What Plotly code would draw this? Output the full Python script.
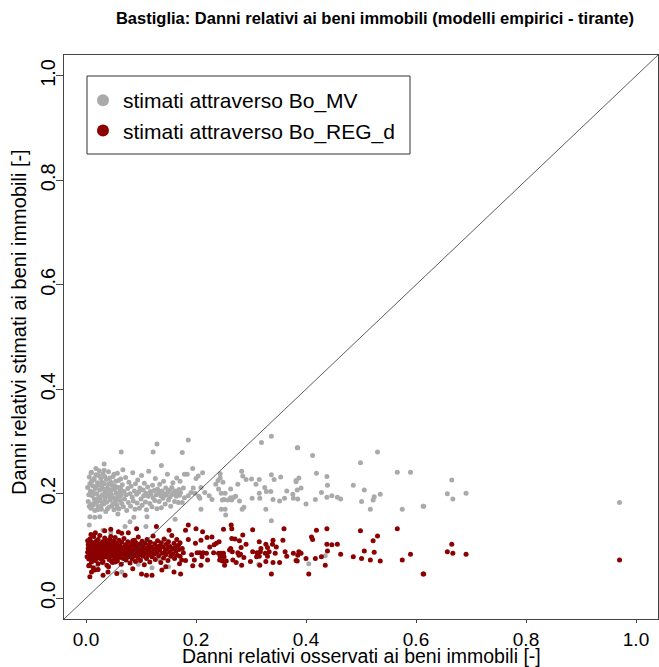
import plotly.graph_objects as go

# ---------------- data ----------------
TITLE = "Bastiglia: Danni relativi ai beni immobili (modelli empirici - tirante)"
X_LABEL = "Danni relativi osservati ai beni immobili [-]"
Y_LABEL = "Danni relativi stimati ai beni immobili [-]"
NAME_MV = "stimati attraverso Bo_MV"
NAME_REG = "stimati attraverso Bo_REG_d"
TICK_VALS = [0.0, 0.2, 0.4, 0.6, 0.8, 1.0]
TICK_TEXT = ["0.0", "0.2", "0.4", "0.6", "0.8", "1.0"]
AXIS_RANGE = [-0.04, 1.04]
DIAG = [-0.04, 1.04]

# Bo_MV estimates (grey)
mv_x = [
    0.004, 0.006, 0.008, 0.009, 0.010, 0.011, 0.012, 0.013, 0.014, 0.015,
    0.016, 0.017, 0.018, 0.019, 0.020, 0.021, 0.022, 0.023, 0.024, 0.025,
    0.026, 0.027, 0.028, 0.029, 0.030, 0.031, 0.032, 0.033, 0.034, 0.035,
    0.036, 0.037, 0.038, 0.039, 0.040, 0.041, 0.042, 0.043, 0.044, 0.045,
    0.046, 0.047, 0.048, 0.049, 0.050, 0.051, 0.052, 0.053, 0.054, 0.055,
    0.056, 0.057, 0.058, 0.059, 0.060, 0.061, 0.062, 0.063, 0.064, 0.065,
    0.066, 0.067, 0.068, 0.069, 0.070, 0.072, 0.073, 0.074, 0.076, 0.077,
    0.078, 0.080, 0.081, 0.082, 0.084, 0.085, 0.086, 0.088, 0.089, 0.090,
    0.092, 0.093, 0.094, 0.096, 0.097, 0.098, 0.100, 0.101, 0.102, 0.104,
    0.105, 0.106, 0.108, 0.109, 0.110, 0.112, 0.113, 0.114, 0.116, 0.117,
    0.118, 0.120, 0.121, 0.122, 0.124, 0.125, 0.126, 0.128, 0.129, 0.130,
    0.132, 0.133, 0.134, 0.136, 0.137, 0.138, 0.140, 0.141, 0.142, 0.144,
    0.145, 0.146, 0.148, 0.149, 0.150, 0.152, 0.153, 0.154, 0.156, 0.157,
    0.158, 0.160, 0.161, 0.162, 0.164, 0.165, 0.166, 0.168, 0.169, 0.170,
    0.005, 0.007, 0.009, 0.011, 0.013, 0.015, 0.017, 0.019, 0.021, 0.023,
    0.025, 0.027, 0.029, 0.031, 0.033, 0.035, 0.037, 0.039, 0.041, 0.043,
    0.045, 0.047, 0.049, 0.051, 0.053, 0.055, 0.057, 0.059, 0.061, 0.063,
    0.003, 0.006, 0.010, 0.014, 0.018, 0.022, 0.026, 0.030, 0.034, 0.038,
    0.064, 0.122, 0.129, 0.033, 0.137, 0.006, 0.016, 0.025, 0.007, 0.058,
    0.080, 0.087, 0.109, 0.111, 0.071, 0.031, 0.162, 0.065, 0.134, 0.146,
    0.045, 0.095, 0.020, 0.150, 0.105, 0.055, 0.120, 0.160,
    0.186, 0.337, 0.319, 0.175, 0.385, 0.194, 0.179, 0.184, 0.204, 0.212,
    0.200, 0.244, 0.244, 0.283, 0.285, 0.291, 0.301, 0.315, 0.337, 0.342,
    0.354, 0.382, 0.171, 0.240, 0.249, 0.236, 0.276, 0.309, 0.177, 0.195,
    0.209, 0.241, 0.263, 0.325, 0.336, 0.365, 0.172, 0.191, 0.198, 0.216,
    0.246, 0.253, 0.315, 0.328, 0.376, 0.384, 0.179, 0.186, 0.205, 0.207,
    0.224, 0.229, 0.251, 0.263, 0.265, 0.269, 0.272, 0.279, 0.302, 0.316,
    0.340, 0.352, 0.361, 0.377, 0.175, 0.248, 0.258, 0.209, 0.246, 0.253,
    0.284, 0.287, 0.327, 0.254, 0.337, 0.314,
    0.384, 0.412, 0.530, 0.499, 0.566, 0.590, 0.419, 0.438, 0.387, 0.382,
    0.439, 0.486, 0.391, 0.506, 0.428, 0.447, 0.438, 0.457, 0.463, 0.524,
    0.535, 0.522, 0.385, 0.417, 0.501, 0.400, 0.517, 0.575, 0.613, 0.435,
    0.405,
    0.665, 0.657, 0.691, 0.667, 0.614, 0.970,
]
mv_y = [
    0.185, 0.232, 0.205, 0.172, 0.241, 0.196, 0.215, 0.178, 0.226, 0.190,
    0.168, 0.210, 0.236, 0.182, 0.200, 0.221, 0.175, 0.193, 0.244, 0.207,
    0.186, 0.229, 0.170, 0.213, 0.198, 0.238, 0.180, 0.219, 0.191, 0.203,
    0.166, 0.227, 0.184, 0.211, 0.195, 0.242, 0.174, 0.206, 0.188, 0.222,
    0.199, 0.177, 0.216, 0.233, 0.192, 0.169, 0.208, 0.185, 0.224, 0.201,
    0.179, 0.239, 0.194, 0.212, 0.171, 0.203, 0.187, 0.228, 0.197, 0.181,
    0.217, 0.246, 0.175, 0.204, 0.190, 0.231, 0.198, 0.168, 0.210, 0.183,
    0.222, 0.200, 0.176, 0.214, 0.193, 0.240, 0.186, 0.205, 0.170, 0.219,
    0.199, 0.182, 0.226, 0.203, 0.172, 0.211, 0.190, 0.235, 0.178, 0.207,
    0.196, 0.220, 0.184, 0.201, 0.169, 0.213, 0.195, 0.243, 0.181, 0.204,
    0.199, 0.175, 0.216, 0.192, 0.206, 0.187, 0.229, 0.198, 0.171, 0.209,
    0.202, 0.185, 0.218, 0.196, 0.173, 0.205, 0.191, 0.224, 0.200, 0.180,
    0.211, 0.197, 0.237, 0.203, 0.188, 0.207, 0.194, 0.176, 0.212, 0.199,
    0.221, 0.202, 0.185, 0.205, 0.195, 0.230, 0.200, 0.183, 0.208, 0.197,
    0.198, 0.219, 0.240, 0.180, 0.203, 0.229, 0.187, 0.214, 0.169, 0.235,
    0.193, 0.176, 0.222, 0.209, 0.245, 0.183, 0.201, 0.171, 0.218, 0.230,
    0.196, 0.208, 0.180, 0.237, 0.214, 0.189, 0.173, 0.225, 0.194, 0.210,
    0.212, 0.176, 0.224, 0.200, 0.248, 0.188, 0.217, 0.183, 0.233, 0.199,
    0.280, 0.280, 0.295, 0.257, 0.254, 0.140, 0.155, 0.156, 0.156, 0.161,
    0.146, 0.155, 0.137, 0.156, 0.137, 0.130, 0.151, 0.050, 0.074, 0.110,
    0.125, 0.065, 0.060, 0.060, 0.090, 0.100, 0.058, 0.082,
    0.303, 0.310, 0.298, 0.279, 0.288, 0.248, 0.237, 0.237, 0.234, 0.240,
    0.229, 0.238, 0.230, 0.243, 0.234, 0.227, 0.228, 0.227, 0.236, 0.227,
    0.232, 0.225, 0.224, 0.225, 0.222, 0.218, 0.218, 0.218, 0.211, 0.211,
    0.212, 0.209, 0.209, 0.212, 0.204, 0.205, 0.202, 0.202, 0.201, 0.202,
    0.201, 0.201, 0.201, 0.204, 0.199, 0.207, 0.192, 0.196, 0.195, 0.191,
    0.196, 0.189, 0.189, 0.192, 0.188, 0.193, 0.195, 0.186, 0.191, 0.191,
    0.189, 0.186, 0.191, 0.191, 0.183, 0.188, 0.188, 0.170, 0.170, 0.170,
    0.170, 0.174, 0.170, 0.159, 0.148, 0.065,
    0.288, 0.273, 0.280, 0.259, 0.241, 0.241, 0.239, 0.233, 0.230, 0.223,
    0.216, 0.216, 0.211, 0.207, 0.202, 0.196, 0.193, 0.193, 0.190, 0.194,
    0.199, 0.188, 0.190, 0.189, 0.185, 0.180, 0.170, 0.170, 0.176, 0.081,
    0.066,
    0.226, 0.200, 0.201, 0.190, 0.176, 0.183,
]

# Bo_REG_d estimates (dark red)
reg_x = [
    0.003, 0.004, 0.005, 0.006, 0.007, 0.008, 0.009, 0.010, 0.011, 0.012,
    0.013, 0.014, 0.015, 0.016, 0.017, 0.018, 0.019, 0.020, 0.021, 0.022,
    0.023, 0.024, 0.025, 0.026, 0.027, 0.028, 0.029, 0.030, 0.031, 0.032,
    0.033, 0.034, 0.035, 0.036, 0.037, 0.038, 0.039, 0.040, 0.041, 0.042,
    0.043, 0.044, 0.045, 0.046, 0.047, 0.048, 0.049, 0.050, 0.051, 0.052,
    0.053, 0.054, 0.055, 0.056, 0.057, 0.058, 0.059, 0.060, 0.061, 0.062,
    0.063, 0.064, 0.065, 0.066, 0.067, 0.068, 0.069, 0.070, 0.071, 0.072,
    0.073, 0.074, 0.075, 0.076, 0.077, 0.078, 0.079, 0.080, 0.081, 0.082,
    0.083, 0.084, 0.085, 0.086, 0.087, 0.088, 0.089, 0.090, 0.091, 0.092,
    0.093, 0.094, 0.095, 0.096, 0.097, 0.098, 0.099, 0.100, 0.101, 0.102,
    0.103, 0.104, 0.105, 0.106, 0.107, 0.108, 0.109, 0.110, 0.111, 0.112,
    0.113, 0.114, 0.115, 0.116, 0.117, 0.118, 0.119, 0.120, 0.122, 0.123,
    0.124, 0.125, 0.126, 0.128, 0.129, 0.130, 0.132, 0.133, 0.134, 0.136,
    0.137, 0.138, 0.140, 0.141, 0.142, 0.144, 0.145, 0.146, 0.148, 0.149,
    0.150, 0.152, 0.153, 0.154, 0.156, 0.157, 0.158, 0.160, 0.161, 0.162,
    0.164, 0.165, 0.166, 0.168, 0.169, 0.170,
    0.004, 0.006, 0.008, 0.010, 0.012, 0.014, 0.016, 0.018, 0.020, 0.022,
    0.024, 0.026, 0.028, 0.030, 0.032, 0.034, 0.036, 0.038, 0.040, 0.042,
    0.044, 0.046, 0.048, 0.050, 0.052, 0.054, 0.056, 0.058, 0.060, 0.062,
    0.005, 0.009, 0.013, 0.017, 0.021, 0.025, 0.029, 0.033, 0.037, 0.041,
    0.045, 0.049, 0.053, 0.057, 0.061, 0.065, 0.002, 0.003, 0.007, 0.011,
    0.034, 0.059, 0.077, 0.088, 0.128, 0.151, 0.007, 0.016, 0.006, 0.031,
    0.040, 0.056, 0.071, 0.101, 0.110, 0.120, 0.138, 0.010, 0.022, 0.085,
    0.145, 0.160, 0.092, 0.045,
    0.186, 0.264, 0.181, 0.200, 0.212, 0.250, 0.265, 0.303, 0.360, 0.220,
    0.229, 0.186, 0.209, 0.265, 0.271, 0.285, 0.279, 0.315, 0.340, 0.358,
    0.242, 0.171, 0.199, 0.237, 0.291, 0.327, 0.339, 0.175, 0.225, 0.233,
    0.263, 0.282, 0.318, 0.330, 0.346, 0.177, 0.202, 0.207, 0.213, 0.219,
    0.232, 0.241, 0.245, 0.250, 0.261, 0.266, 0.276, 0.281, 0.303, 0.311,
    0.317, 0.326, 0.333, 0.344, 0.362, 0.377, 0.171, 0.192, 0.211, 0.244,
    0.251, 0.278, 0.287, 0.310, 0.315, 0.330, 0.365, 0.385, 0.174, 0.181,
    0.197, 0.221, 0.243, 0.248, 0.255, 0.267, 0.273, 0.299, 0.327, 0.340,
    0.352, 0.194, 0.209, 0.252, 0.283, 0.316, 0.172, 0.337,
    0.419, 0.438, 0.499, 0.566, 0.410, 0.412, 0.530, 0.522, 0.438, 0.447,
    0.457, 0.387, 0.391, 0.439, 0.506, 0.524, 0.463, 0.590, 0.382, 0.384,
    0.400, 0.417, 0.428, 0.486, 0.501, 0.517, 0.535, 0.575, 0.435, 0.405,
    0.613,
    0.665, 0.657, 0.667, 0.691, 0.614, 0.970,
]
reg_y = [
    0.088, 0.102, 0.075, 0.094, 0.113, 0.082, 0.098, 0.069, 0.107, 0.090,
    0.078, 0.118, 0.085, 0.100, 0.072, 0.093, 0.110, 0.081, 0.096, 0.066,
    0.104, 0.087, 0.120, 0.076, 0.099, 0.091, 0.083, 0.108, 0.070, 0.095,
    0.086, 0.115, 0.079, 0.101, 0.092, 0.063, 0.106, 0.084, 0.097, 0.074,
    0.112, 0.089, 0.080, 0.103, 0.094, 0.068, 0.109, 0.086, 0.099, 0.077,
    0.116, 0.091, 0.083, 0.105, 0.071, 0.096, 0.088, 0.111, 0.080, 0.100,
    0.093, 0.065, 0.107, 0.085, 0.097, 0.076, 0.114, 0.090, 0.082, 0.102,
    0.073, 0.095, 0.087, 0.108, 0.079, 0.098, 0.091, 0.067, 0.104, 0.084,
    0.096, 0.075, 0.110, 0.089, 0.081, 0.101, 0.093, 0.070, 0.106, 0.086,
    0.097, 0.078, 0.117, 0.092, 0.083, 0.103, 0.072, 0.095, 0.088, 0.109,
    0.080, 0.099, 0.090, 0.064, 0.105, 0.085, 0.096, 0.076, 0.112, 0.091,
    0.082, 0.102, 0.094, 0.069, 0.107, 0.087, 0.098, 0.079, 0.119, 0.093,
    0.084, 0.104, 0.074, 0.097, 0.089, 0.110, 0.081, 0.100, 0.092, 0.068,
    0.106, 0.086, 0.098, 0.077, 0.113, 0.090, 0.083, 0.103, 0.095, 0.072,
    0.108, 0.088, 0.099, 0.080, 0.120, 0.094, 0.085, 0.105, 0.076, 0.097,
    0.090, 0.112, 0.082, 0.101, 0.093, 0.066,
    0.095, 0.080, 0.108, 0.091, 0.073, 0.099, 0.086, 0.104, 0.077, 0.112,
    0.094, 0.083, 0.101, 0.068, 0.089, 0.097, 0.079, 0.110, 0.092, 0.085,
    0.103, 0.071, 0.096, 0.081, 0.107, 0.088, 0.074, 0.100, 0.093, 0.078,
    0.062, 0.122, 0.058, 0.125, 0.087, 0.097, 0.075, 0.105, 0.088, 0.060,
    0.118, 0.091, 0.069, 0.102, 0.087, 0.124, 0.079, 0.110, 0.090, 0.100,
    0.129, 0.127, 0.125, 0.111, 0.137, 0.130, 0.041, 0.054, 0.063, 0.044,
    0.050, 0.047, 0.044, 0.046, 0.044, 0.044, 0.054, 0.050, 0.055, 0.056,
    0.060, 0.050, 0.133, 0.132,
    0.140, 0.140, 0.130, 0.133, 0.127, 0.132, 0.133, 0.131, 0.133, 0.116,
    0.117, 0.112, 0.111, 0.114, 0.113, 0.121, 0.110, 0.108, 0.111, 0.111,
    0.108, 0.106, 0.105, 0.105, 0.103, 0.103, 0.103, 0.095, 0.098, 0.102,
    0.095, 0.097, 0.095, 0.097, 0.098, 0.087, 0.087, 0.087, 0.087, 0.086,
    0.087, 0.086, 0.086, 0.086, 0.092, 0.089, 0.087, 0.084, 0.089, 0.087,
    0.089, 0.086, 0.089, 0.086, 0.089, 0.086, 0.080, 0.083, 0.079, 0.080,
    0.079, 0.082, 0.078, 0.079, 0.080, 0.080, 0.080, 0.082, 0.073, 0.072,
    0.073, 0.073, 0.073, 0.071, 0.071, 0.073, 0.068, 0.070, 0.070, 0.068,
    0.068, 0.062, 0.063, 0.063, 0.063, 0.063, 0.046, 0.046,
    0.130, 0.133, 0.129, 0.133, 0.117, 0.112, 0.119, 0.110, 0.103, 0.102,
    0.103, 0.089, 0.086, 0.090, 0.090, 0.088, 0.084, 0.084, 0.072, 0.071,
    0.076, 0.076, 0.079, 0.079, 0.076, 0.073, 0.071, 0.073, 0.063, 0.046,
    0.046,
    0.103, 0.089, 0.086, 0.084, 0.046, 0.073,
]

# ---------------- figure ----------------
FONT = "Liberation Sans, Arial, sans-serif"
GREY = "#AAAAAA"
DARKRED = "#8B0000"
AXIS_COL = "#444444"

W, H = 659, 667
ML, MR, MT, MB = 64, 1, 55, 48
PW, PH = W - ML - MR, H - MT - MB


def px_to_paper_x(px):
    return (px - ML) / PW


def px_to_paper_y(py):
    return (H - MB - py) / PH


fig = go.Figure()
fig.add_trace(go.Scatter(
    x=mv_x, y=mv_y, mode="markers", name=NAME_MV,
    marker=dict(color=GREY, size=5, line=dict(width=0)),
))
fig.add_trace(go.Scatter(
    x=reg_x, y=reg_y, mode="markers", name=NAME_REG,
    marker=dict(color=DARKRED, size=5, line=dict(width=0)),
))

# y = x reference line
fig.add_shape(type="line", xref="x", yref="y",
              x0=DIAG[0], y0=DIAG[0], x1=DIAG[1], y1=DIAG[1],
              line=dict(color="#333333", width=0.8), layer="above")

# legend frame (R-style box)
fig.add_shape(type="rect", xref="paper", yref="paper",
              x0=px_to_paper_x(87), x1=px_to_paper_x(410),
              y0=px_to_paper_y(154), y1=px_to_paper_y(76),
              line=dict(color="#333333", width=1), fillcolor="white",
              layer="below")

axis_common = dict(
    range=AXIS_RANGE, tickvals=TICK_VALS, ticktext=TICK_TEXT,
    showgrid=False, zeroline=False, showline=True, mirror=True,
    linecolor=AXIS_COL, linewidth=1.2,
    ticks="outside", tickcolor=AXIS_COL, tickwidth=1,
)

fig.update_layout(
    width=W, height=H,
    margin=dict(l=ML, r=MR, t=MT, b=MB),
    paper_bgcolor="white", plot_bgcolor="white",
    font=dict(family=FONT, color="#000000"),
    title=dict(text="<b>" + TITLE + "</b>", x=0.569, xanchor="center",
               y=0.973, yanchor="middle", yref="container",
               font=dict(family=FONT, size=16.5, color="#000000")),
    xaxis=dict(**axis_common, ticklen=3,
               tickfont=dict(family=FONT, size=19, color="#000000")),
    yaxis=dict(**axis_common, ticklen=7, tickangle=-90, ticklabelstandoff=-7,
               tickfont=dict(family=FONT, size=20, color="#000000")),
    legend=dict(x=px_to_paper_x(83), y=px_to_paper_y(80),
                xanchor="left", yanchor="top",
                bgcolor="rgba(0,0,0,0)", borderwidth=0,
                font=dict(family=FONT, size=21, color="#000000"),
                itemsizing="constant", tracegroupgap=0),
    showlegend=True,
)

# axis titles placed like R's mtext
fig.add_annotation(text=X_LABEL, xref="paper", yref="paper",
                   x=0.5, y=px_to_paper_y(656), xanchor="center", yanchor="middle",
                   showarrow=False, font=dict(family=FONT, size=19.5, color="#000000"))
fig.add_annotation(text=Y_LABEL, xref="paper", yref="paper",
                   x=px_to_paper_x(19), y=px_to_paper_y(322), xanchor="center",
                   yanchor="middle", textangle=-90,
                   showarrow=False, font=dict(family=FONT, size=20, color="#000000"))

fig.write_html("out.html")
